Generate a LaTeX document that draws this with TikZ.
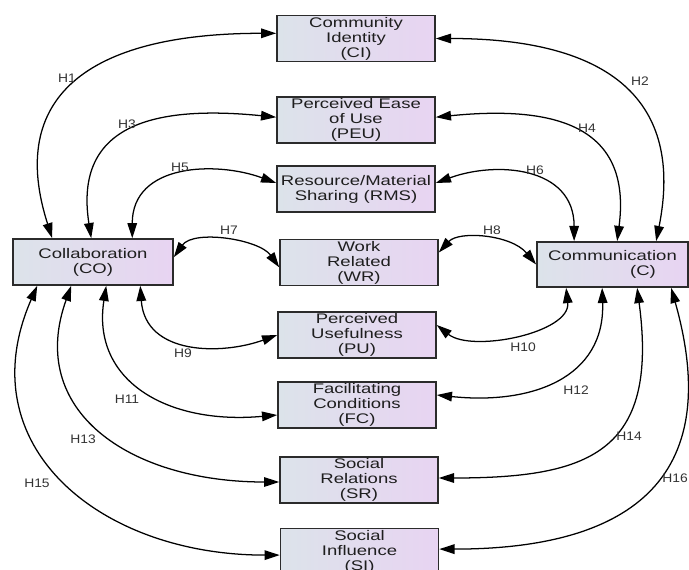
\documentclass[tikz,border=0pt]{standalone}
\usepackage{fontspec}
\setmainfont{Liberation Sans}
\newfontfamily\constructfont[FakeStretch=1.33]{Liberation Sans}
\newfontfamily\hypfont[FakeStretch=1.12]{Liberation Sans}
\usepackage{tikz}
\usetikzlibrary{arrows.meta,positioning,calc}
\definecolor{ModelLeft}{HTML}{DCE3EA}
\definecolor{ModelRight}{HTML}{E8D4F2}
\definecolor{ModelEdge}{HTML}{2B2B2B}
\definecolor{ModelText}{HTML}{1E1E1E}
\tikzset{
  construct/.style={draw=ModelEdge,line width=1.1pt,left color=ModelLeft,right color=ModelRight,
    minimum width=3.95cm,minimum height=1.16cm,inner sep=0pt,align=center,text=ModelText,
    font=\constructfont\fontsize{9.9}{10.7}\selectfont},
  hyp/.style={line width=0.9pt,arrows={Triangle[length=0.38cm,width=0.24cm]-Triangle[length=0.38cm,width=0.24cm]}},
  hlab/.style={text=black!80,font=\hypfont\fontsize{8.8}{10}\selectfont}
}

\begin{document}
\begin{tikzpicture}[x=0.025cm,y=-0.025cm]
\useasboundingbox (0,0) rectangle (689,570);
\clip (0,0) rectangle (689,570);
% outcome constructs
\node[construct,minimum width=4cm,minimum height=1.15cm] (co) at (93,262) {Collaboration\\(CO)};
\node[construct,minimum width=3.78cm,minimum height=1.13cm,align=left] (c) at (612.5,264.5) {Communication\\\hspace*{2.05cm}(C)};
% middle column
\foreach \name/\x/\y/\txt in {ci/356/38.5/{Community\\Identity\\(CI)},pe/356/120/{Perceived Ease\\of Use\\(PEU)},
  rms/356/189/{Resource/Material\\Sharing (RMS)},wr/359/262.5/{Work\\Related\\(WR)},pu/357/335/{Perceived\\Usefulness\\(PU)},
  fc/357/405/{Facilitating\\Conditions\\(FC)},sr/359/480/{Social\\Relations\\(SR)},si/359.5/551.5/{Social\\Influence\\(SI)}} {
  \node[construct] (\name) at (\x,\y) {\txt};
}
% upper arcs
\draw[hyp] ([xshift=1cm]co.north west) .. controls +(-45,-140) and +(-190,0) .. ([yshift=0.13cm]ci.west);
\draw[hyp] ([xshift=1.975cm]co.north west) .. controls +(-18,-115) and +(-120,-12) .. ([yshift=0.07cm]pe.west);
\draw[hyp] ([xshift=3cm]co.north west) .. controls +(0,-75) and +(-60,-22) .. ([yshift=0.15cm]rms.west);
\draw[hyp] ([yshift=0.12cm]co.east) .. controls +(20,-28) and +(-20,-28) .. ([yshift=-0.12cm]wr.west);
\draw[hyp] (ci.east) .. controls +(175,0) and +(28,-140) .. ([xshift=3cm]c.north west);
\draw[hyp] ([yshift=0.07cm]pe.east) .. controls +(120,-12) and +(15,-115) .. ([xshift=2.025cm]c.north west);
\draw[hyp] ([yshift=0.15cm]rms.east) .. controls +(60,-22) and +(0,-75) .. ([xshift=0.95cm]c.north west);
\draw[hyp] ([yshift=0.25cm]wr.east) .. controls +(20,-22) and +(-25,-30) .. (c.west);
% lower arcs
\draw[hyp] ([xshift=3.2cm]co.south west) .. controls +(5,70) and +(-55,20) .. (pu.west);
\draw[hyp] ([xshift=2.35cm]co.south west) .. controls +(-15,95) and +(-110,10) .. ([yshift=-0.25cm]fc.west);
\draw[hyp] ([xshift=1.475cm]co.south west) .. controls +(-45,125) and +(-150,0) .. ([yshift=-0.05cm]sr.west);
\draw[hyp] ([xshift=0.625cm]co.south west) .. controls +(-70,160) and +(-180,0) .. ([yshift=-0.09cm]si.west);
\draw[hyp] ([yshift=0.25cm]pu.east) .. controls +(35,28) and +(5,45) .. ([xshift=0.75cm]c.south west);
\draw[hyp] ([yshift=0.25cm]fc.east) .. controls +(95,10) and +(3,90) .. ([xshift=1.65cm]c.south west);
\draw[hyp] ([yshift=0.05cm]sr.east) .. controls +(150,0) and +(22,165) .. ([xshift=2.525cm]c.south west);
\draw[hyp] ([yshift=0.06cm]si.east) .. controls +(172,0) and +(58,205) .. ([xshift=3.375cm]c.south west);
% hypothesis labels
\foreach \n/\x/\y in {1/67/78,3/127/124,5/180/167,7/229/230,2/640/81,4/587/128,6/535/170,8/492/230,
  9/183/353,11/127/399,13/83/439,15/37/483,10/523/347,12/576/390,14/629/436,16/675/478} {
  \node[hlab] (lab\n) at (\x,\y) {H\n};
}
\end{tikzpicture}
\end{document}
